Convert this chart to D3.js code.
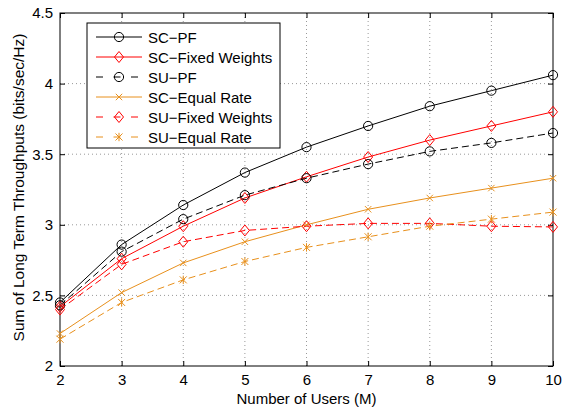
<!DOCTYPE html>
<html>
<head>
<meta charset="utf-8">
<script src="https://cdn.jsdelivr.net/npm/d3@7"></script>
<style>
  body { margin: 0; background: #fff; }
  svg text { font-family: "Liberation Sans", Arial, Helvetica, sans-serif; }
</style>
</head>
<body>
<div id="chart"></div>
<script>
// x values (number of users)
const users = [2, 3, 4, 5, 6, 7, 8, 9, 10];

// series values
const scPF         = [2.45, 2.86, 3.14, 3.37, 3.55, 3.70, 3.84, 3.95, 4.06];
const scFixed      = [2.42, 2.76, 2.99, 3.19, 3.34, 3.48, 3.60, 3.70, 3.80];
const suPF         = [2.43, 2.81, 3.04, 3.21, 3.33, 3.43, 3.52, 3.58, 3.65];
const scEqual      = [2.23, 2.52, 2.73, 2.88, 3.00, 3.11, 3.19, 3.26, 3.33];
const suFixed      = [2.40, 2.72, 2.88, 2.96, 2.99, 3.01, 3.01, 2.99, 2.985];
const suEqual      = [2.19, 2.45, 2.61, 2.74, 2.84, 2.915, 2.99, 3.04, 3.09];

const seriesNames = ["SC\u2212PF", "SC\u2212Fixed Weights", "SU\u2212PF",
                     "SC\u2212Equal Rate", "SU\u2212Fixed Weights", "SU\u2212Equal Rate"];

const xTicks = [2, 3, 4, 5, 6, 7, 8, 9, 10];
const yTicks = [2, 2.5, 3, 3.5, 4, 4.5];

const orange = "#e8901c";
const series = [
  { name: seriesNames[0], values: scPF,    color: "#000", dash: null,  marker: "circle" },
  { name: seriesNames[1], values: scFixed, color: "#ff0000", dash: null,  marker: "diamond" },
  { name: seriesNames[2], values: suPF,    color: "#000", dash: "7,4", marker: "circle" },
  { name: seriesNames[3], values: scEqual, color: orange, dash: null,  marker: "cross" },
  { name: seriesNames[4], values: suFixed, color: "#ff0000", dash: "7,4", marker: "diamond" },
  { name: seriesNames[5], values: suEqual, color: orange, dash: "7,4", marker: "star" }
];

const W = 563, H = 410;
const margin = { left: 60, right: 10, top: 13, bottom: 44 };
const fs = 15;

const svg = d3.select("#chart").append("svg")
  .attr("width", W).attr("height", H);

const x = d3.scaleLinear().domain([2, 10]).range([margin.left, W - margin.right]);
const y = d3.scaleLinear().domain([2, 4.5]).range([H - margin.bottom, margin.top]);

// grid
svg.append("g").selectAll("line.gx")
  .data(xTicks.slice(1, -1)).enter().append("line")
  .attr("x1", d => x(d)).attr("x2", d => x(d))
  .attr("y1", y(2)).attr("y2", y(4.5))
  .attr("stroke", "#999").attr("stroke-width", 1)
  .attr("stroke-dasharray", "1,3");
svg.append("g").selectAll("line.gy")
  .data(yTicks.slice(1, -1)).enter().append("line")
  .attr("y1", d => y(d)).attr("y2", d => y(d))
  .attr("x1", x(2)).attr("x2", x(10))
  .attr("stroke", "#999").attr("stroke-width", 1)
  .attr("stroke-dasharray", "1,3");

// axes (ticks pointing inward, box on all sides)
const tl = 5;
svg.append("g")
  .attr("transform", `translate(0,${y(2)})`)
  .call(d3.axisBottom(x).tickValues(xTicks).tickSize(-tl).tickPadding(8).tickFormat(d3.format("d")))
  .call(g => g.select(".domain").remove());
svg.append("g")
  .attr("transform", `translate(0,${y(4.5)})`)
  .call(d3.axisTop(x).tickValues(xTicks).tickSize(-tl).tickFormat(""))
  .call(g => g.select(".domain").remove());
svg.append("g")
  .attr("transform", `translate(${x(2)},0)`)
  .call(d3.axisLeft(y).tickValues(yTicks).tickSize(-tl).tickPadding(7).tickFormat(d3.format("")))
  .call(g => g.select(".domain").remove());
svg.append("g")
  .attr("transform", `translate(${x(10)},0)`)
  .call(d3.axisRight(y).tickValues(yTicks).tickSize(-tl).tickFormat(""))
  .call(g => g.select(".domain").remove());

svg.selectAll(".tick text").attr("font-size", fs).attr("fill", "#000")
  .style("font-family", "'Liberation Sans', Arial, sans-serif");
svg.selectAll(".tick line").attr("stroke", "#000");

svg.append("rect")
  .attr("x", x(2)).attr("y", y(4.5))
  .attr("width", x(10) - x(2)).attr("height", y(2) - y(4.5))
  .attr("fill", "none").attr("stroke", "#000").attr("stroke-width", 1);

// markers
function drawMarker(g, type, cx, cy, color) {
  if (type === "circle") {
    g.append("circle").attr("cx", cx).attr("cy", cy).attr("r", 4.6)
      .attr("fill", "none").attr("stroke", color).attr("stroke-width", 1);
  } else if (type === "diamond") {
    g.append("path")
      .attr("d", `M${cx},${cy - 5.5}L${cx + 4.5},${cy}L${cx},${cy + 5.5}L${cx - 4.5},${cy}Z`)
      .attr("fill", "none").attr("stroke", color).attr("stroke-width", 1);
  } else if (type === "cross") {
    const s = 3.2;
    g.append("path")
      .attr("d", `M${cx - s},${cy - s}L${cx + s},${cy + s}M${cx - s},${cy + s}L${cx + s},${cy - s}`)
      .attr("stroke", color).attr("stroke-width", 1);
  } else if (type === "star") {
    const s = 3.5;
    g.append("path")
      .attr("d", `M${cx - s},${cy - s}L${cx + s},${cy + s}M${cx - s},${cy + s}L${cx + s},${cy - s}M${cx},${cy - s * 1.2}L${cx},${cy + s * 1.2}`)
      .attr("stroke", color).attr("stroke-width", 1);
  }
}

const line = d3.line().x((d, i) => x(users[i])).y(d => y(d));

series.forEach(s => {
  const g = svg.append("g");
  g.append("path")
    .attr("d", line(s.values))
    .attr("fill", "none").attr("stroke", s.color).attr("stroke-width", 1)
    .attr("stroke-dasharray", s.dash);
  s.values.forEach((v, i) => drawMarker(g, s.marker, x(users[i]), y(v), s.color));
});

// legend
const leg = svg.append("g");
leg.append("rect")
  .attr("x", 87).attr("y", 23).attr("width", 193).attr("height", 125)
  .attr("fill", "#fff").attr("stroke", "#000").attr("stroke-width", 1);
series.forEach((s, i) => {
  const ly = 37 + i * 20;
  leg.append("line")
    .attr("x1", 96).attr("x2", 142).attr("y1", ly).attr("y2", ly)
    .attr("stroke", s.color).attr("stroke-width", 1)
    .attr("stroke-dasharray", s.dash ? "7,10.5" : null);
  drawMarker(leg, s.marker, 119, ly, s.color);
  leg.append("text")
    .attr("x", 148).attr("y", ly + 5.5)
    .attr("font-size", fs).attr("fill", "#000")
    .text(s.name);
});

// axis labels
svg.append("text")
  .attr("x", (x(2) + x(10)) / 2).attr("y", 404)
  .attr("text-anchor", "middle").attr("font-size", fs)
  .text("Number of Users (M)");
svg.append("text")
  .attr("transform", `translate(24,${(y(2) + y(4.5)) / 2 - 2}) rotate(-90)`)
  .attr("text-anchor", "middle").attr("font-size", fs + 0.5)
  .text("Sum of Long Term Throughputs (bits/sec/Hz)");
</script>
</body>
</html>
